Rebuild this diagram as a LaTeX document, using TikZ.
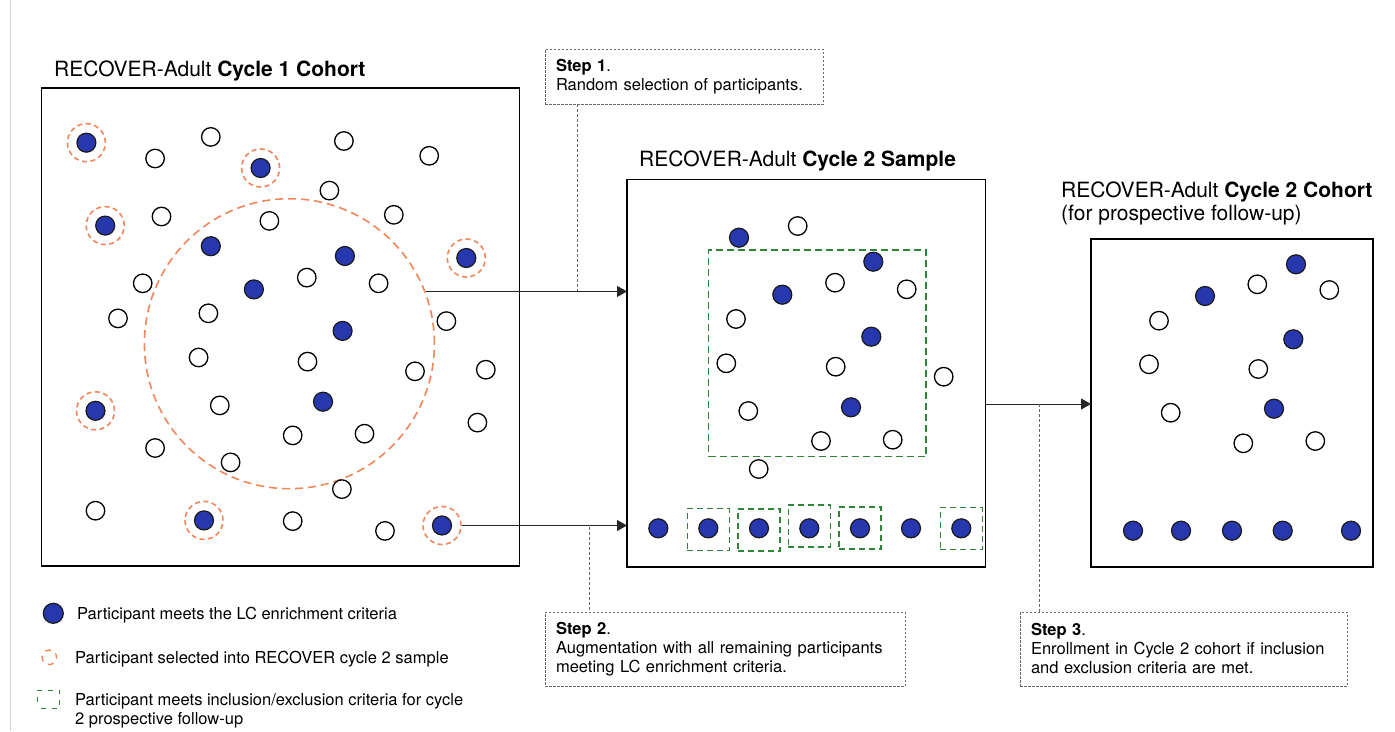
\documentclass[tikz,border=0pt]{standalone}
\usepackage{fontspec}
\setmainfont{TeX Gyre Heros}
\usetikzlibrary{arrows.meta}
\definecolor{lcblue}{RGB}{39,56,175}
\definecolor{selorange}{RGB}{240,135,90}
\definecolor{incgreen}{RGB}{45,135,55}
\definecolor{stepgray}{RGB}{105,105,105}
\begin{document}
\begin{tikzpicture}[x=1pt,y=-1pt,
  open/.style={circle,draw=black,line width=1.3pt,fill=white,minimum size=18.5pt,inner sep=0pt},
  lc/.style={circle,draw=black!90,line width=1.2pt,fill=lcblue,minimum size=19pt,inner sep=0pt},
  ring/.style={circle,draw=selorange,line width=1.6pt,dash pattern=on 5pt off 3.5pt,minimum size=38pt,inner sep=0pt},
  pool/.style={circle,draw=selorange,line width=1.6pt,dash pattern=on 8pt off 5pt,minimum size=290pt,inner sep=0pt},
  incbox/.style={rectangle,draw=incgreen,line width=1.6pt,dash pattern=on 7pt off 4pt,inner sep=0pt},
  incsq/.style={incbox,minimum size=42pt,line width=1.5pt,dash pattern=on 6pt off 4pt},
  cohortbox/.style={rectangle,draw=black,line width=1.8pt,inner sep=0pt,outer sep=0pt,anchor=north west},
  title/.style={font=\fontsize{21}{25}\selectfont,inner sep=0pt,anchor=base west},
  legtext/.style={font=\fontsize{16.5}{19}\selectfont,inner sep=0pt,anchor=base west},
  stepbox/.style={draw=stepgray,line width=0.9pt,dash pattern=on 2.5pt off 1.5pt,font=\fontsize{16.5}{19}\selectfont,align=left,anchor=north west,inner xsep=11pt,inner ysep=0pt,outer sep=0pt},
  stepline/.style={draw=stepgray,line width=0.9pt,dash pattern=on 3pt off 2pt},
  arr/.style={draw=black!85,line width=1pt,-{Triangle[length=10pt,width=11pt]}}
]
\useasboundingbox (0,0) rectangle (1395,731);
\draw[gray!35,line width=1pt] (10.5,0) -- (10.5,731);

% ---------- boxes ----------
\node[cohortbox,minimum width=478pt,minimum height=478pt] (box1) at (41.5,88) {};
\node[cohortbox,minimum width=358.5pt,minimum height=387.5pt] (box2) at (627,179.5) {};
\node[cohortbox,minimum width=282pt,minimum height=328pt] (box3) at (1091,239) {};

% ---------- titles ----------
\node[title] (t1) at (54,76.3) {RECOVER-Adult \textbf{Cycle 1 Cohort}};
\node[title] (t2) at (639,166) {RECOVER-Adult \textbf{Cycle 2 Sample}};
\node[title] (t3) at (1061,197.3) {RECOVER-Adult \textbf{Cycle 2 Cohort}};
\node[title] (t3b) at (1061,220.5) {(for prospective follow-up)};

% ---------- cycle 1 cohort ----------
\node[pool] (pool) at (289.4,343.7) {};
\foreach \x/\y [count=\i] in {210.8/136.9,155.1/158.5,343.9/141,429.2/155.8,329.4/190.6,161.5/216.5,269.4/220.9,393.8/214.8,142.7/283.3,306.8/277.6,378.6/283.3,118/318.4,208.4/313.3,446.4/321.1,198.6/357.5,307.5/361.6,415/371.3,485.8/369.7,219.8/405.4,477.4/422.6,155.1/448,292.7/435.4,364.5/433.7,230.6/462.4,341.9/489.1,95.5/510.7,292.7/521.1,385/530.9}
  \node[open] (oa\i) at (\x,\y) {};
\foreach \x/\y [count=\i] in {210.8/246.2,344.9/256,253.9/289.4,342.6/330.9,323/401.7}
  \node[lc] (la\i) at (\x,\y) {};
\foreach \x/\y [count=\i] in {86.4/142.7,260.6/168,105.2/225.6,466.3/258,95.5/410.8,204/520.4,442/525.5}
  {\node[ring] (r\i) at (\x,\y) {};
   \node[lc] (lr\i) at (r\i) {};}

% ---------- cycle 2 sample ----------
\node[incbox,minimum width=217.3pt,minimum height=206.7pt,anchor=north west] (inc) at (707.7,249) {};
\foreach \x/\y [count=\i] in {797.7/226,835/282.7,906.7/289.3,736/319,726.3/363.3,835.7/366.7,943.7/376.7,748.3/411,821/441,892.7/439.7,758.7/469}
  \node[open] (ob\i) at (\x,\y) {};
\foreach \x/\y [count=\i] in {739/237.7,873.3/261.7,782.3/294.7,871.3/336.7,851/407.3}
  \node[lc] (lb\i) at (\x,\y) {};
\node[lc] (bb1) at (658.3,528.3) {};
\foreach \x/\y [count=\i] in {708.3/529.5,759/530,809.3/526,860/528,961.3/528.5}
  \node[incsq] (sq\i) at (\x,\y) {};
\foreach \x [count=\i] in {708.3,759,809.3,860}
  \node[lc] (bq\i) at (\x,528.3) {};
\node[lc] (bb2) at (911,528.3) {};
\node[lc] (bq5) at (961.3,528.3) {};

% ---------- cycle 2 cohort ----------
\foreach \x/\y [count=\i] in {1257.3/284.3,1329.3/290,1159/320.7,1149/364.3,1258.3/369,1170.7/412.7,1243.3/443.3,1315.3/441}
  \node[open] (oc\i) at (\x,\y) {};
\foreach \x/\y [count=\i] in {1296/264.3,1205/296,1293.3/339.3,1274/408.7}
  \node[lc] (lc\i) at (\x,\y) {};
\foreach \x [count=\i] in {1133,1181,1232,1282.7,1351}
  \node[lc] (bc\i) at (\x,530.7) {};

% ---------- arrows ----------
\draw[arr] (pool.21.3) -- (pool.21.3 -| box2.west);
\draw[arr] (r7.east) -- (r7.east -| box2.west);
\draw[arr] ([yshift=-30.75pt]box2.east) -- ([yshift=-30.75pt]box2.east -| box3.west);

% ---------- steps ----------
\node[stepbox,text width=256pt,minimum height=55pt] (s1) at (545,49) {\textbf{Step 1}.\\Random selection of participants.};
\node[stepbox,text width=338pt,minimum height=74pt] (s2) at (545,612) {\textbf{Step 2}.\\Augmentation with all remaining participants\\meeting LC enrichment criteria.};
\node[stepbox,text width=305pt,minimum height=74pt] (s3) at (1020,612) {\textbf{Step 3}.\\Enrollment in Cycle 2 cohort if inclusion\\and exclusion criteria are met.};
\coordinate (j1) at (577,291);
\coordinate (j2) at (589.3,527);
\coordinate (j3) at (1039.5,404);
\draw[stepline] (s1.south -| j1) -- (j1);
\draw[stepline] (j2) -- (j2 |- s2.north);
\draw[stepline] (j3) -- (j3 |- s3.north);

% ---------- legend ----------
\node[lc,minimum size=20pt] (lg1) at (53.3,613.3) {};
\node[legtext] (lt1) at (77,619.3) {Participant meets the LC enrichment criteria};
\node[circle,draw=selorange,line width=1.4pt,dash pattern=on 6pt off 5.5pt,dash phase=2pt,minimum size=14.5pt,inner sep=0pt] (lg2) at (49.3,657.3) {};
\node[legtext] (lt2) at (75,663.3) {Participant selected into RECOVER cycle 2 sample};
\node[rectangle,draw=incgreen,line width=1.4pt,dash pattern=on 5pt off 6pt,dash phase=-3pt,minimum width=22pt,minimum height=18pt,inner sep=0pt] (lg3) at (48.6,699.2) {};
\node[legtext] (lt3) at (75,705.6) {Participant meets inclusion/exclusion criteria for cycle};
\node[legtext] (lt3b) at (75,724.4) {2 prospective follow-up};
\end{tikzpicture}
\end{document}
